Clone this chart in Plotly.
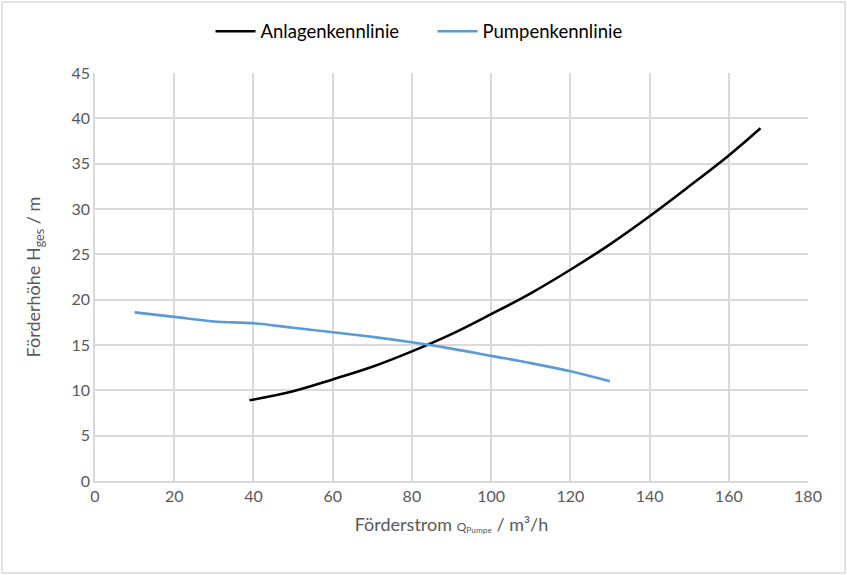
import plotly.graph_objects as go

# Anlagenkennlinie (system curve)
q_anlage = [39, 50, 60, 70, 80, 90, 100, 110, 120, 130, 140, 150, 160, 168]
h_anlage = [8.9, 9.9, 11.2, 12.6, 14.3, 16.2, 18.4, 20.7, 23.3, 26.1, 29.2, 32.5, 35.9, 38.9]

# Pumpenkennlinie (pump curve)
q_pumpe = [10, 20, 30, 40, 50, 60, 70, 80, 90, 100, 110, 120, 130]
h_pumpe = [18.6, 18.1, 17.6, 17.4, 16.9, 16.4, 15.9, 15.3, 14.6, 13.8, 13.0, 12.1, 11.0]

x_ticks = [0, 20, 40, 60, 80, 100, 120, 140, 160, 180]
y_ticks = [0, 5, 10, 15, 20, 25, 30, 35, 40, 45]

FONT = "Lato, 'Open Sans', sans-serif"
GRID = "#D9D9D9"
TXT = "#595959"

fig = go.Figure()
fig.add_trace(go.Scatter(x=q_anlage, y=h_anlage, mode="lines", name="Anlagenkennlinie",
                         line=dict(color="#000000", width=2.6, shape="spline")))
fig.add_trace(go.Scatter(x=q_pumpe, y=h_pumpe, mode="lines", name="Pumpenkennlinie",
                         line=dict(color="#5B9BD5", width=2.6, shape="spline")))

fig.update_layout(
    width=847, height=575,
    margin=dict(l=95, r=39, t=73, b=94),
    paper_bgcolor="white", plot_bgcolor="white",
    font=dict(family=FONT, size=16, color=TXT),
    legend=dict(orientation="h", x=0.4734, xanchor="center", y=0.978, yanchor="top",
                yref="container", font=dict(size=18.5, color="#000000"),
                itemwidth=40, entrywidth=167, entrywidthmode="pixels"),
    xaxis=dict(range=[0, 180], tickvals=x_ticks, showgrid=True, gridcolor=GRID, gridwidth=1.5,
               zeroline=False, showline=True, linecolor=GRID, linewidth=1.5,
               ticks="", tickfont=dict(size=16, color=TXT),
               title=dict(text="Förderstrom <span style='font-size:12px'>Q<sub>Pumpe</sub></span> / m³/h",
                          font=dict(size=18, color=TXT), standoff=14)),
    yaxis=dict(range=[0, 45], tickvals=y_ticks, showgrid=True, gridcolor=GRID, gridwidth=1.5,
               zeroline=False, showline=True, linecolor=GRID, linewidth=1.5,
               ticks="", tickfont=dict(size=16, color=TXT),
               title=dict(text="Förderhöhe H<sub>ges</sub> / m",
                          font=dict(size=18, color=TXT), standoff=26)),
)

fig.add_shape(type="rect", xref="paper", yref="paper",
              x0=-93 / 713, y0=-92 / 408, x1=1 + 37 / 713, y1=1 + 71 / 408,
              line=dict(color=GRID, width=1.5), layer="below")

fig.write_html("out.html", config={"displayModeBar": False},
               post_script="document.body.style.margin='0';document.body.style.overflow='hidden';"
                           "window.dispatchEvent(new Event('resize'));")
